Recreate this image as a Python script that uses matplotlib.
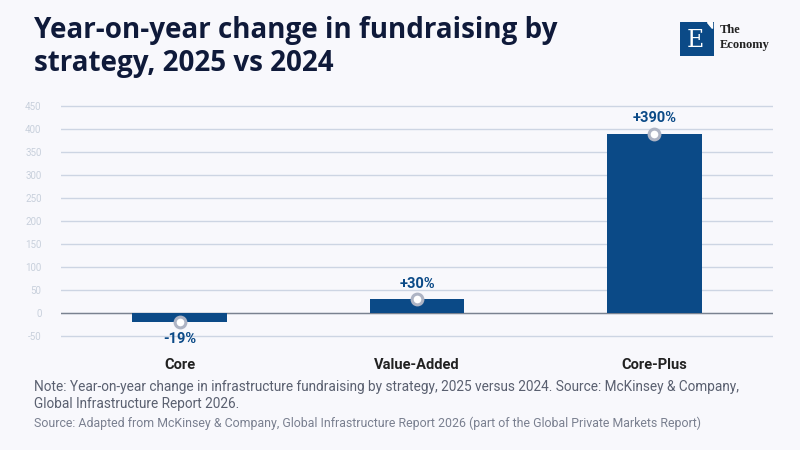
import matplotlib.pyplot as plt
from matplotlib.patches import Rectangle, Polygon

# Data
strategies = ['Core', 'Value-Added', 'Core-Plus']
yoy_change = [-19, 30, 390]
value_labels = ['-19%', '+30%', '+390%']
y_ticks = [-50, 0, 50, 100, 150, 200, 250, 300, 350, 400, 450]

bg = '#F8F8FC'
bar_color = '#0B4A87'
plt.rcParams['font.family'] = ['Roboto', 'DejaVu Sans']

fig = plt.figure(figsize=(8, 4.5), dpi=100, facecolor=bg)
ax = fig.add_axes([61 / 800, 1 - 340 / 450, 712 / 800, 240 / 450])
ax.set_facecolor(bg)

x = range(len(strategies))
ax.bar(x, yoy_change, width=0.4, color=bar_color, zorder=3)
ax.scatter(x, yoy_change, s=60, facecolor='white', edgecolor='#AEB4C4',
           linewidth=2.2, zorder=4)

for i, (v, lab) in enumerate(zip(yoy_change, value_labels)):
    off = 6 if v > 0 else -7
    ax.annotate(lab, (i, v), xytext=(0, off), textcoords='offset points',
                ha='center', va='bottom' if v > 0 else 'top',
                fontsize=10.5, fontweight='bold', color=bar_color, zorder=5)

ax.set_xlim(-0.5, 2.5)
ax.set_ylim(-58, 463)
ax.set_yticks(y_ticks)
ax.set_yticklabels([str(t) for t in y_ticks])
ax.grid(axis='y', color='#CDD5E3', linewidth=1, zorder=0)
ax.axhline(0, color='#7A8290', linewidth=1, zorder=2)
for s in ax.spines.values():
    s.set_visible(False)
ax.tick_params(axis='y', length=0, labelsize=7, labelcolor='#C8D0DC', pad=14)
ax.tick_params(axis='x', length=0, pad=13)
ax.set_xticks(list(x))
ax.set_xticklabels(strategies, fontsize=10.5, fontweight='bold', color='#222222')

# Title
fig.text(34 / 800, 1 - 16 / 450, 'Year-on-year change in fundraising by\nstrategy, 2025 vs 2024',
         ha='left', va='top', fontsize=20, fontweight='bold', color='#0F1A3A',
         linespacing=1.2, family=['Open Sans', 'DejaVu Sans'])

# Logo
lax = fig.add_axes([680 / 800, 1 - 56 / 450, 34 / 800, 34 / 450])
lax.set_xlim(0, 1)
lax.set_ylim(0, 1)
lax.axis('off')
lax.add_patch(Rectangle((0, 0), 1, 1, color='#0B4A87'))
lax.add_patch(Polygon([[0.78, 1], [0.95, 1], [0.95, 0.83]], color='white'))
lax.text(0.45, 0.45, 'E', ha='center', va='center', color='white',
         fontsize=17, family='DejaVu Serif')
fig.text(720 / 800, 1 - 30 / 450, 'The', ha='left', va='center', fontsize=9,
         family='Liberation Serif', fontweight='bold', color='#222222')
fig.text(720 / 800, 1 - 45 / 450, 'Economy', ha='left', va='center', fontsize=9,
         family='Liberation Serif', fontweight='bold', color='#222222')

# Notes
fig.text(34 / 800, 1 - 380 / 450,
         'Note: Year-on-year change in infrastructure fundraising by strategy, 2025 versus 2024. '
         'Source: McKinsey & Company,\nGlobal Infrastructure Report 2026.',
         ha='left', va='top', fontsize=9.8, color='#5A6070', linespacing=1.3)
fig.text(34 / 800, 1 - 417 / 450,
         'Source: Adapted from McKinsey & Company, Global Infrastructure Report 2026 '
         '(part of the Global Private Markets Report)',
         ha='left', va='top', fontsize=8.9, color='#7A8090')

fig.savefig('out.png', dpi=100, facecolor=bg)
